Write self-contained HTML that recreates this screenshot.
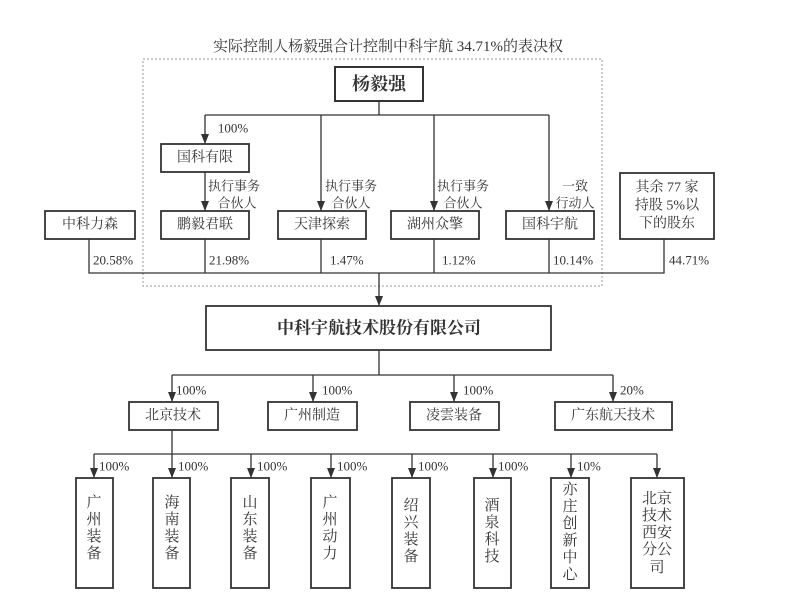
<!DOCTYPE html>
<html><head><meta charset="utf-8"><style>
html,body{margin:0;padding:0;background:#fff;}
svg{display:block;}
text{font-family:"Liberation Serif","Noto Serif CJK SC","Noto Sans CJK SC",serif;fill:#333;}
</style></head><body>
<svg width="800" height="610" viewBox="0 0 800 610" xmlns="http://www.w3.org/2000/svg">
<defs><marker id="a" markerWidth="10" markerHeight="8" refX="10" refY="4" orient="auto" markerUnits="userSpaceOnUse"><path d="M0,0 L10,4 L0,8 Z" fill="#333"/></marker></defs>
<g stroke="#333" fill="none" stroke-width="1.3">
<rect x="143" y="59" width="459" height="227" stroke="#999" stroke-dasharray="2,2" stroke-width="1"/>
<rect x="335" y="67" width="88" height="34" stroke-width="2"/>
<path d="M379 101V115M205 115H549"/>
<path d="M205 115V144" marker-end="url(#a)"/>
<path d="M321 115V211" marker-end="url(#a)"/>
<path d="M434 115V211" marker-end="url(#a)"/>
<path d="M549 115V211" marker-end="url(#a)"/>
<path d="M205 172V211" marker-end="url(#a)"/>
<rect x="161" y="144" width="88" height="28" stroke-width="1.8"/>
<rect x="45" y="211" width="90" height="28" stroke-width="1.8"/>
<rect x="161" y="211" width="88" height="28" stroke-width="1.8"/>
<rect x="278" y="211" width="88" height="28" stroke-width="1.8"/>
<rect x="391" y="211" width="88" height="28" stroke-width="1.8"/>
<rect x="506" y="211" width="88" height="28" stroke-width="1.8"/>
<rect x="620" y="173" width="94" height="66" stroke-width="1.8"/>
<path d="M89 239V273H664V239M205 239V273M321 239V273M434 239V273M549 239V273"/>
<path d="M379 273V306" marker-end="url(#a)"/>
<rect x="206" y="306" width="345" height="44" stroke-width="1.8"/>
<path d="M379 350V375M172 375H613"/>
<path d="M172 375V402" marker-end="url(#a)"/>
<path d="M313 375V402" marker-end="url(#a)"/>
<path d="M454 375V402" marker-end="url(#a)"/>
<path d="M613 375V402" marker-end="url(#a)"/>
<rect x="129" y="402" width="89" height="28" stroke-width="1.8"/>
<rect x="268" y="402" width="89" height="28" stroke-width="1.8"/>
<rect x="410" y="402" width="89" height="28" stroke-width="1.8"/>
<rect x="555" y="402" width="117" height="28" stroke-width="1.8"/>
<path d="M172 430V454M94 454H657"/>
<path d="M94 454V478" marker-end="url(#a)"/>
<path d="M172 454V478" marker-end="url(#a)"/>
<path d="M251 454V478" marker-end="url(#a)"/>
<path d="M331 454V478" marker-end="url(#a)"/>
<path d="M412 454V478" marker-end="url(#a)"/>
<path d="M493 454V478" marker-end="url(#a)"/>
<path d="M571 454V478" marker-end="url(#a)"/>
<path d="M657 454V478" marker-end="url(#a)"/>
<rect x="76" y="478" width="37" height="110" stroke-width="1.8"/>
<rect x="153" y="478" width="37" height="110" stroke-width="1.8"/>
<rect x="231" y="478" width="38" height="110" stroke-width="1.8"/>
<rect x="311" y="478" width="39" height="110" stroke-width="1.8"/>
<rect x="392" y="478" width="38" height="110" stroke-width="1.8"/>
<rect x="474" y="478" width="37" height="110" stroke-width="1.8"/>
<rect x="551" y="478" width="38" height="110" stroke-width="1.8"/>
<rect x="631" y="478" width="53" height="110" stroke-width="1.8"/>
</g>
<g font-size="14" dominant-baseline="central" text-anchor="middle">
<text x="388" y="47" font-size="15">实际控制人杨毅强合计控制中科宇航 34.71%的表决权</text>
<text x="379" y="84" font-size="18" font-weight="bold" fill="#111">杨毅强</text>
<text x="233" y="128" font-size="13">100%</text>
<text x="205" y="158">国科有限</text>
<text x="234" y="186" font-size="13">执行事务</text><text x="237" y="203" font-size="13">合伙人</text>
<text x="351" y="186" font-size="13">执行事务</text><text x="351" y="203" font-size="13">合伙人</text>
<text x="463" y="186" font-size="13">执行事务</text><text x="463" y="203" font-size="13">合伙人</text>
<text x="575" y="186" font-size="13">一致</text><text x="575" y="203" font-size="13">行动人</text>
<text x="90" y="225">中科力森</text>
<text x="205" y="225">鹏毅君联</text>
<text x="322" y="225">天津探索</text>
<text x="435" y="225">湖州众擎</text>
<text x="550" y="225">国科宇航</text>
<text x="667" y="188">其余 77 家</text>
<text x="667" y="206">持股 5%以</text>
<text x="667" y="224">下的股东</text>
<g font-size="13" text-anchor="start">
<text x="93" y="260">20.58%</text>
<text x="209" y="260">21.98%</text>
<text x="330" y="260">1.47%</text>
<text x="442" y="260">1.12%</text>
<text x="553" y="260">10.14%</text>
<text x="669" y="260">44.71%</text>
<text x="176" y="390">100%</text>
<text x="322" y="390">100%</text>
<text x="463" y="390">100%</text>
<text x="620" y="390">20%</text>
<text x="99" y="466">100%</text>
<text x="178" y="466">100%</text>
<text x="257" y="466">100%</text>
<text x="337" y="466">100%</text>
<text x="418" y="466">100%</text>
<text x="498" y="466">100%</text>
<text x="577" y="466">10%</text>
</g>
<text x="379" y="328" font-size="17" font-weight="bold" fill="#111">中科宇航技术股份有限公司</text>
<text x="173" y="416">北京技术</text>
<text x="312" y="416">广州制造</text>
<text x="454" y="416">凌雲装备</text>
<text x="613" y="416">广东航天技术</text>
<g font-size="15">
<text x="94" y="503">广</text><text x="94" y="520">州</text><text x="94" y="537">装</text><text x="94" y="554">备</text>
<text x="172" y="503">海</text><text x="172" y="520">南</text><text x="172" y="537">装</text><text x="172" y="554">备</text>
<text x="250" y="503">山</text><text x="250" y="520">东</text><text x="250" y="537">装</text><text x="250" y="554">备</text>
<text x="330" y="503">广</text><text x="330" y="520">州</text><text x="330" y="537">动</text><text x="330" y="554">力</text>
<text x="411" y="506">绍</text><text x="411" y="523">兴</text><text x="411" y="540">装</text><text x="411" y="557">备</text>
<text x="492" y="506">酒</text><text x="492" y="523">泉</text><text x="492" y="540">科</text><text x="492" y="557">技</text>
<text x="570" y="490">亦</text><text x="570" y="507">庄</text><text x="570" y="524">创</text><text x="570" y="541">新</text><text x="570" y="558">中</text><text x="570" y="575">心</text>
<text x="657" y="499">北京</text><text x="657" y="516">技术</text><text x="657" y="533">西安</text><text x="657" y="550">分公</text><text x="657" y="568">司</text>
</g>
</g>
</svg>
</body></html>
